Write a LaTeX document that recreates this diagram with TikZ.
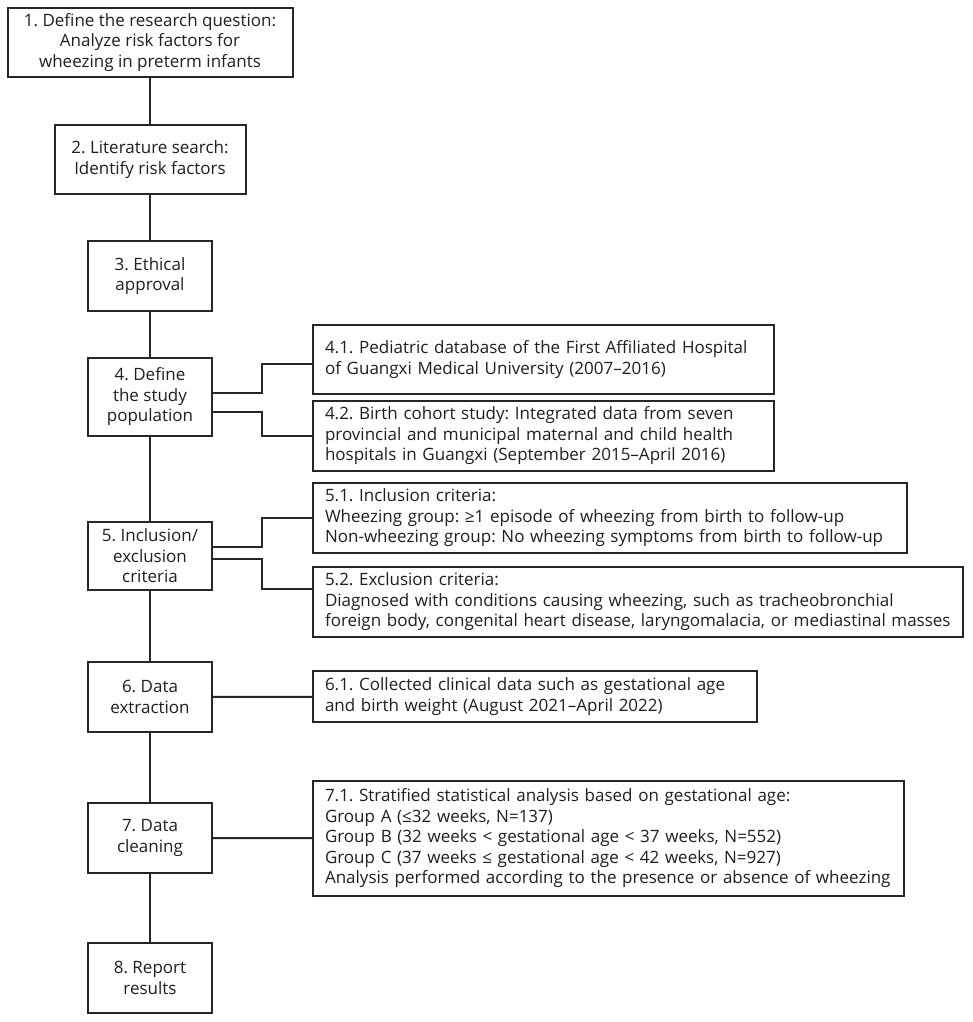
\documentclass[tikz,border=0pt]{standalone}
\usepackage{fontspec}
\setmainfont{Open Sans}
\frenchspacing
\begin{document}
\begin{tikzpicture}[x=1pt,y=-1pt,
  box/.style={draw=black!85, line width=2pt, fill=white, inner sep=0pt,
    font=\fontsize{17}{20.5}\selectfont, text=black!88},
  lbox/.style={box, align=center},
  rbox/.style={box, align=left, inner xsep=12pt},
  link/.style={draw=black!85, line width=2pt}]
\useasboundingbox[fill=white] (0,0) rectangle (972,1022);

% left column
\node[lbox, minimum width=285pt, minimum height=69pt] (n1) at (150,42.5)
  {1. Define the research question:\\Analyze risk factors for\\wheezing in preterm infants};
\node[lbox, minimum width=191pt, minimum height=69pt] (n2) at (150,159.5)
  {2. Literature search:\\Identify risk factors};
\node[lbox, minimum width=124pt, minimum height=70pt] (n3) at (150,276)
  {3. Ethical\\approval};
\node[lbox, minimum width=124pt, minimum height=78pt] (n4) at (150,397)
  {4. Define\\the study\\population};
\node[lbox, minimum width=124pt, minimum height=68pt] (n5) at (150,556)
  {5. Inclusion/\\exclusion\\criteria};
\node[lbox, minimum width=124pt, minimum height=70pt] (n6) at (150,697)
  {6. Data\\extraction};
\node[lbox, minimum width=124pt, minimum height=70pt] (n7) at (150,838)
  {7. Data\\cleaning};
\node[lbox, minimum width=124pt, minimum height=70pt] (n8) at (150,978)
  {8. Report\\results};

% right column
\node[rbox, minimum width=461pt, minimum height=69pt, text width=437pt] (r41) at (543.5,359.5)
  {4.1. Pediatric database of the First Affiliated Hospital\\of Guangxi Medical University (2007–2016)};
\node[rbox, minimum width=461pt, minimum height=70pt, text width=437pt] (r42) at (543.5,436)
  {4.2. Birth cohort study: Integrated data from seven\\provincial and municipal maternal and child health\\hospitals in Guangxi (September 2015–April 2016)};
\node[rbox, minimum width=594pt, minimum height=70pt, text width=570pt] (r51) at (610,518)
  {5.1. Inclusion criteria:\\Wheezing group: ≥1 episode of wheezing from birth to follow-up\\Non-wheezing group: No wheezing symptoms from birth to follow-up};
\node[rbox, minimum width=650pt, minimum height=70pt, text width=626pt] (r52) at (638,602)
  {5.2. Exclusion criteria:\\Diagnosed with conditions causing wheezing, such as tracheobronchial\\foreign body, congenital heart disease, laryngomalacia, or mediastinal masses};
\node[rbox, minimum width=444pt, minimum height=51pt, text width=420pt] (r61) at (535,696.5)
  {6.1. Collected clinical data such as gestational age\\and birth weight (August 2021–April 2022)};
\node[rbox, minimum width=591pt, minimum height=115pt, text width=567pt] (r71) at (608.5,838.5)
  {7.1. Stratified statistical analysis based on gestational age:\\Group A (≤32 weeks, N=137)\\Group B (32 weeks < gestational age < 37 weeks, N=552)\\Group C (37 weeks ≤ gestational age < 42 weeks, N=927)\\Analysis performed according to the presence or absence of wheezing};

% spine
\draw[link] (n1) -- (n2);
\draw[link] (n2) -- (n3);
\draw[link] (n3) -- (n4);
\draw[link] (n4) -- (n5);
\draw[link] (n5) -- (n6);
\draw[link] (n6) -- (n7);
\draw[link] (n7) -- (n8);

% branches
\draw[link] (n4.east |- 0,393) -- (262,393) -- (262,364) -- (r41.west |- 0,364);
\draw[link] (n4.east |- 0,412) -- (262,412) -- (262,436) -- (r42.west);
\draw[link] (n5.east |- 0,547) -- (262,547) -- (262,518) -- (r51.west);
\draw[link] (n5.east |- 0,559) -- (262,559) -- (262,589) -- (r52.west |- 0,589);
\draw[link] (n6) -- (r61);
\draw[link] (n7) -- (r71);
\end{tikzpicture}
\end{document}
